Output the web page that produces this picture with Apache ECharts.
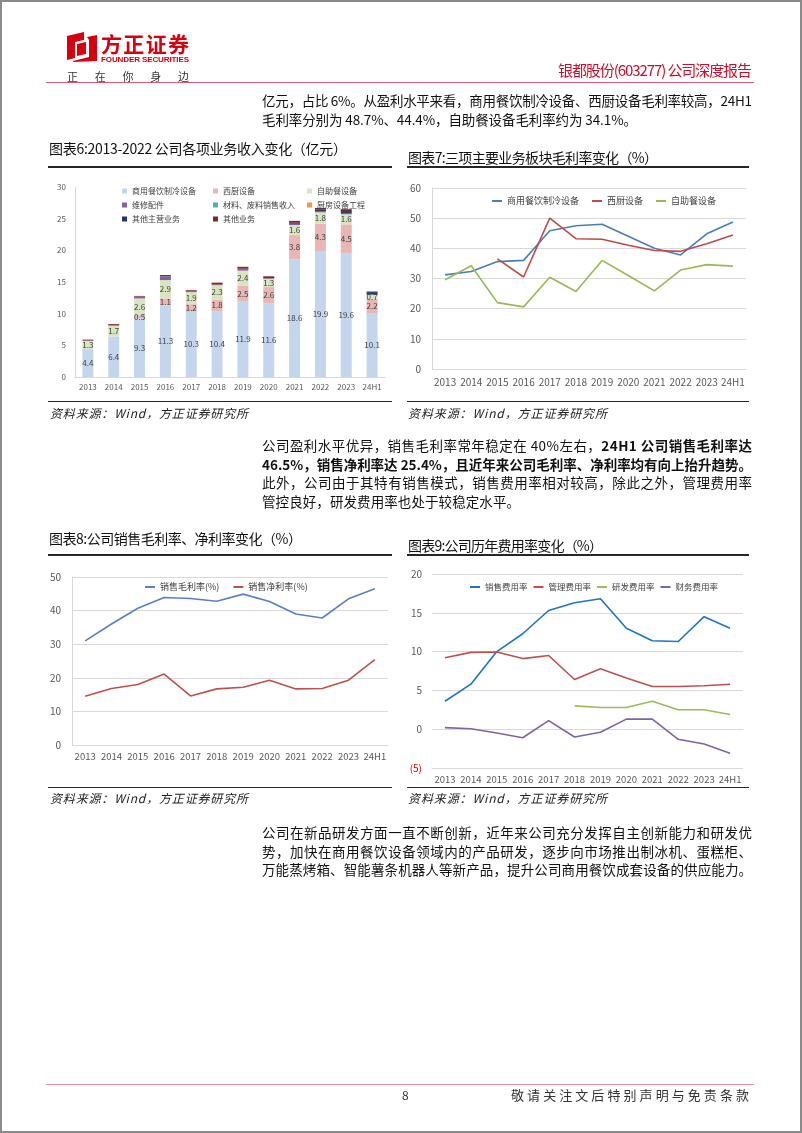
<!DOCTYPE html>
<html><head><meta charset="utf-8">
<script src="https://cdn.jsdelivr.net/npm/echarts/dist/echarts.min.js"></script>
<style>
html,body{margin:0;padding:0;background:#fff;}
#page{position:relative;width:802px;height:1133px;overflow:hidden;font-family:"Noto Sans CJK SC",sans-serif;background:#fff;}
#frame{position:absolute;left:0;top:0;width:802px;height:1133px;box-sizing:border-box;border:2px solid #8a8a8a;pointer-events:none;}
.t{position:absolute;white-space:nowrap;line-height:20px;height:20px;}
.hr{position:absolute;height:0;}
.chart{position:absolute;}
</style></head><body>
<div id="page">
  <svg style="position:absolute;left:66px;top:31px" width="32" height="32" viewBox="0 0 32 32">
    <path d="M1 5 L18 1 L18 9 L9 11 L9 27 L1 29 Z" fill="#D7000F"/>
    <path d="M21 6 L31 4 L31 30 L7 31 L7 30 L23 26 L23 9 Z" fill="#D7000F"/>
    <path d="M11 13 L20 11 L20 23 L11 25 Z" fill="#D7000F"/>
  </svg>
  <div class="hr" style="left:46px;top:81.5px;width:708px;border-top:1.5px solid #E2596D;"></div>

  <div class="hr" style="left:48px;top:166px;width:344px;border-top:2px solid #262626;"></div>
  <div class="hr" style="left:407px;top:166px;width:342px;border-top:2px solid #262626;"></div>
  <div class="hr" style="left:48px;top:400.5px;width:344px;border-top:1.5px solid #262626;"></div>
  <div class="hr" style="left:407px;top:400.5px;width:342px;border-top:1.5px solid #262626;"></div>

  <div class="hr" style="left:48px;top:554px;width:344px;border-top:2px solid #262626;"></div>
  <div class="hr" style="left:407px;top:554px;width:342px;border-top:2px solid #262626;"></div>
  <div class="hr" style="left:48px;top:787px;width:344px;border-top:1.5px solid #262626;"></div>
  <div class="hr" style="left:407px;top:787px;width:342px;border-top:1.5px solid #262626;"></div>

  <div class="hr" style="left:46px;top:1084px;width:708px;border-top:1px solid #E8909C;"></div>

  <div id="c6" class="chart" style="left:40px;top:170px;width:360px;height:228px;"></div>
  <div id="c7" class="chart" style="left:400px;top:170px;width:400px;height:228px;"></div>
  <div id="c8" class="chart" style="left:40px;top:560px;width:360px;height:225px;"></div>
  <div id="c9" class="chart" style="left:400px;top:560px;width:400px;height:225px;"></div>
  <div id="frame"></div>
</div>
<script>
// ---------------- data ----------------
const categories = ['2013','2014','2015','2016','2017','2018','2019','2020','2021','2022','2023','24H1'];

// 图表6 收入（亿元）
const revCommercial = [4.4,6.4,9.3,11.3,10.3,10.4,11.9,11.6,18.6,19.9,19.6,10.1];
const revWestern    = [0,0,0.5,1.1,1.2,1.8,2.5,2.6,3.8,4.3,4.5,2.2];
const revBuffet     = [1.3,1.7,2.6,2.9,1.9,2.3,2.4,1.3,1.6,1.8,1.6,0.7];
const revRepair     = [0.05,0.05,0.3,0.6,0.1,0.1,0.3,0.1,0.2,0.2,0.2,0];
const revMaterial   = [0,0,0,0,0,0,0,0,0,0,0,0];
const revProject    = [0,0,0,0,0,0,0,0,0,0,0,0];
const revOtherMain  = [0,0,0,0,0,0,0,0,0.15,0.2,0.3,0.4];
const revOther      = [0.15,0.2,0.1,0.2,0.2,0.3,0.3,0.3,0.3,0.3,0.3,0.1];
const revNames = ['商用餐饮制冷设备','西厨设备','自助餐设备','维修配件','材料、废料销售收入','厨房设备工程','其他主营业务','其他业务'];

// 图表7 毛利率（%）
const gmCommercial = [31.2,32.3,35.6,36.0,45.8,47.5,48.0,44.0,40.0,37.8,44.8,48.7];
const gmWestern    = [null,null,36.5,30.5,50.0,43.2,43.0,41.0,39.3,39.0,41.5,44.4];
const gmBuffet     = [29.6,34.2,22.0,20.6,30.4,25.7,36.0,31.0,25.9,32.8,34.6,34.1];

// 图表8 销售毛利率、净利率（%）
const grossMargin = [31.0,36.0,40.7,43.9,43.6,42.8,44.9,42.7,39.0,37.8,43.5,46.5];
const netMargin   = [14.5,16.8,18.0,21.1,14.6,16.7,17.2,19.3,16.7,16.8,19.3,25.4];

// 图表9 费用率（%）
const salesExp = [3.6,5.8,10.0,12.3,15.3,16.3,16.8,13.0,11.4,11.3,14.5,13.0];
const adminExp = [9.2,9.9,9.95,9.1,9.5,6.4,7.8,6.6,5.5,5.5,5.6,5.8];
const rdExp    = [null,null,null,null,null,3.0,2.8,2.8,3.6,2.5,2.5,1.9];
const finExp   = [0.2,0.05,-0.5,-1.1,1.1,-1.0,-0.4,1.3,1.3,-1.3,-1.9,-3.1];

// ---------------- page text ----------------
const texts = [
  {h:'方正证券', x:101, x2:189, y:43, fs:21, c:'#D7000F', w:700},
  {h:'FOUNDER SECURITIES', x:101, x2:189, y:59.5, fs:8, c:'#D7000F', w:700, ff:'"Liberation Sans",Arial,sans-serif'},
  {h:'正在你身边', x:67, x2:189, y:76, fs:11, c:'#333'},
  {h:'银都股份(603277) 公司深度报告', x:558, x2:752, y:70, fs:15, c:'#C8102E'},
  {h:'亿元，占比 6%。从盈利水平来看，商用餐饮制冷设备、西厨设备毛利率较高，24H1', x:262, x2:752, y:100, fs:13.5, c:'#111'},
  {h:'毛利率分别为 48.7%、44.4%，自助餐设备毛利率约为 34.1%。', x:262, x2:637, y:118.5, fs:13.5, c:'#111'},
  {h:'图表6:2013-2022 公司各项业务收入变化（亿元）', x:49, x2:347, y:148, fs:14, c:'#111'},
  {h:'图表7:三项主要业务板块毛利率变化（%）', x:408, x2:658, y:157, fs:14, c:'#111'},
  {h:'资料来源：Wind，方正证券研究所', x:50, x2:248, y:413, fs:12, c:'#222', it:1},
  {h:'资料来源：Wind，方正证券研究所', x:408, x2:607, y:413, fs:12, c:'#222', it:1},
  {h:'公司盈利水平优异，销售毛利率常年稳定在 40%左右，<b>24H1 公司销售毛利率达</b>', x:262, x2:752, y:445, fs:13.5, c:'#111'},
  {h:'<b>46.5%，销售净利率达 25.4%，且近年来公司毛利率、净利率均有向上抬升趋势。</b>', x:262, x2:752, y:463.5, fs:13.5, c:'#111'},
  {h:'此外，公司由于其特有销售模式，销售费用率相对较高，除此之外，管理费用率', x:262, x2:752, y:482, fs:13.5, c:'#111'},
  {h:'管控良好，研发费用率也处于较稳定水平。', x:262, x2:520, y:500.5, fs:13.5, c:'#111'},
  {h:'图表8:公司销售毛利率、净利率变化（%）', x:49, x2:302, y:538, fs:14, c:'#111'},
  {h:'图表9:公司历年费用率变化（%）', x:408, x2:603, y:545, fs:14, c:'#111'},
  {h:'资料来源：Wind，方正证券研究所', x:50, x2:248, y:798, fs:12, c:'#222', it:1},
  {h:'资料来源：Wind，方正证券研究所', x:408, x2:607, y:798, fs:12, c:'#222', it:1},
  {h:'公司在新品研发方面一直不断创新，近年来公司充分发挥自主创新能力和研发优', x:262, x2:752, y:832, fs:13.5, c:'#111'},
  {h:'势，加快在商用餐饮设备领域内的产品研发，逐步向市场推出制冰机、蛋糕柜、', x:262, x2:752, y:850.5, fs:13.5, c:'#111'},
  {h:'万能蒸烤箱、智能薯条机器人等新产品，提升公司商用餐饮成套设备的供应能力。', x:262, x2:752, y:869, fs:13.5, c:'#111'},
  {h:'8', x:402, x2:409, y:1095, fs:12, c:'#333'},
  {h:'敬请关注文后特别声明与免责条款', x:511, x2:749, y:1095, fs:13, c:'#333'}
];
const page = document.getElementById('page');
texts.forEach(o => {
  const d = document.createElement('div');
  d.className = 't';
  d.innerHTML = o.h;
  d.style.left = o.x + 'px';
  d.style.top = (o.y - 10) + 'px';
  d.style.fontSize = o.fs + 'px';
  d.style.color = o.c;
  if (o.w) d.style.fontWeight = o.w;
  if (o.ff) d.style.fontFamily = o.ff;
  if (o.it) d.style.fontStyle = 'italic';
  page.appendChild(d);
  const w0 = d.getBoundingClientRect().width;
  const n = [...d.textContent].length;
  if (n > 1) d.style.letterSpacing = ((o.x2 - o.x - w0) / (n - 1)) + 'px';
});

// ---------------- charts ----------------
const FF = '"Noto Sans CJK SC", sans-serif';
const LBL = '#595959';
const GRID = '#D9D9D9';

// 图表6
const c6 = echarts.init(document.getElementById('c6'));
const c6colors = ['#C4D5EE','#E8B6B5','#D8E5C0','#8064A2','#4BACC6','#F79646','#1F3864','#7B2A2A'];
const c6data = [revCommercial, revWestern, revBuffet, revRepair, revMaterial, revProject, revOtherMain, revOther];
const c6legend = (items, left) => ({
  data: items, orient: 'vertical', left: left, top: 10.5, icon: 'rect',
  itemWidth: 5, itemHeight: 5, itemGap: 3,
  textStyle: {fontSize: 8, lineHeight: 11, color: '#404040', fontFamily: FF}
});
c6.setOption({
  animation: false,
  color: c6colors,
  legend: [
    c6legend([revNames[0], revNames[3], revNames[6]], 77),
    c6legend([revNames[1], revNames[4], revNames[7]], 168),
    c6legend([revNames[2], revNames[5]], 262)
  ],
  grid: {left: 35, top: 17, width: 310, height: 190},
  xAxis: {type: 'category', data: categories,
    axisLine: {lineStyle: {color: GRID}}, axisTick: {show: false},
    axisLabel: {interval: 0, fontSize: 8, color: LBL, margin: 6, fontFamily: FF}},
  yAxis: {type: 'value', min: 0, max: 30, interval: 5,
    splitLine: {show: false},
    axisLine: {show: true, lineStyle: {color: GRID}},
    axisLabel: {fontSize: 8, color: LBL, margin: 9, fontFamily: FF}},
  series: c6data.map((arr, i) => ({
    name: revNames[i], type: 'bar', stack: 'rev', barWidth: 11, data: arr,
    label: {show: i < 3, position: 'inside', fontSize: 8, color: '#404040', fontFamily: FF,
      formatter: p => (p.value > 0 ? p.value.toFixed(1) : '')}
  }))
});

// 图表7
const c7 = echarts.init(document.getElementById('c7'));
const lineSeries = (name, data, color, w) => ({
  name, type: 'line', data, symbol: 'none', connectNulls: false,
  lineStyle: {width: w || 1.6, color}, itemStyle: {color}
});
c7.setOption({
  animation: false,
  legend: {left: 87, top: 20.5, icon: 'rect', itemWidth: 10, itemHeight: 2, itemGap: 13,
    textStyle: {fontSize: 9, lineHeight: 11, color: '#404040', fontFamily: FF}},
  grid: {left: 32, top: 18, width: 314, height: 181},
  xAxis: {type: 'category', data: categories,
    axisLine: {lineStyle: {color: GRID}}, axisTick: {show: false},
    axisLabel: {interval: 0, fontSize: 10, color: LBL, margin: 8, fontFamily: FF}},
  yAxis: {type: 'value', min: 0, max: 60, interval: 10,
    splitLine: {lineStyle: {color: GRID}},
    axisLine: {show: true, lineStyle: {color: GRID}},
    axisLabel: {fontSize: 10, color: LBL, margin: 11, fontFamily: FF}},
  series: [
    lineSeries('商用餐饮制冷设备', gmCommercial, '#4A7EBB'),
    lineSeries('西厨设备', gmWestern, '#BE4B48'),
    lineSeries('自助餐设备', gmBuffet, '#98B954')
  ]
});

// 图表8
const c8 = echarts.init(document.getElementById('c8'));
c8.setOption({
  animation: false,
  legend: {left: 100, top: 16.5, icon: 'rect', itemWidth: 10, itemHeight: 2, itemGap: 14,
    textStyle: {fontSize: 9, lineHeight: 11, color: '#404040', fontFamily: FF}},
  grid: {left: 32, top: 17, width: 316, height: 168},
  xAxis: {type: 'category', data: categories,
    axisLine: {lineStyle: {color: GRID}}, axisTick: {show: false},
    axisLabel: {interval: 0, fontSize: 9.5, color: LBL, margin: 7, fontFamily: FF}},
  yAxis: {type: 'value', min: 0, max: 50, interval: 10,
    splitLine: {lineStyle: {color: GRID}},
    axisLine: {show: true, lineStyle: {color: GRID}},
    axisLabel: {fontSize: 10, color: LBL, margin: 11, fontFamily: FF}},
  series: [
    lineSeries('销售毛利率(%)', grossMargin, '#5B80BF'),
    lineSeries('销售净利率(%)', netMargin, '#C0504D')
  ]
});

// 图表9
const c9 = echarts.init(document.getElementById('c9'));
c9.setOption({
  animation: false,
  legend: {left: 65, top: 16.5, icon: 'rect', itemWidth: 10, itemHeight: 2, itemGap: 6,
    textStyle: {fontSize: 8.5, lineHeight: 11, color: '#404040', fontFamily: FF}},
  grid: {left: 32, top: 14, width: 311, height: 194},
  xAxis: {type: 'category', data: categories,
    axisLine: {onZero: true, lineStyle: {color: GRID}}, axisTick: {show: false},
    axisLabel: {interval: 0, fontSize: 9.5, color: LBL, margin: 7, fontFamily: FF}},
  yAxis: {type: 'value', min: -5, max: 20, interval: 5,
    splitLine: {lineStyle: {color: GRID}},
    axisLine: {show: false},
    axisLabel: {fontSize: 10, color: LBL, margin: 10, fontFamily: FF,
      formatter: v => (v < 0 ? '{neg|(' + Math.abs(v) + ')}' : String(v)),
      rich: {neg: {color: '#E00000', fontSize: 10, fontFamily: FF}}}},
  series: [
    lineSeries('销售费用率', salesExp, '#1F74C4'),
    lineSeries('管理费用率', adminExp, '#C0504D'),
    lineSeries('研发费用率', rdExp, '#9BBB59'),
    lineSeries('财务费用率', finExp, '#7F64A3')
  ]
});
</script>
</body></html>
